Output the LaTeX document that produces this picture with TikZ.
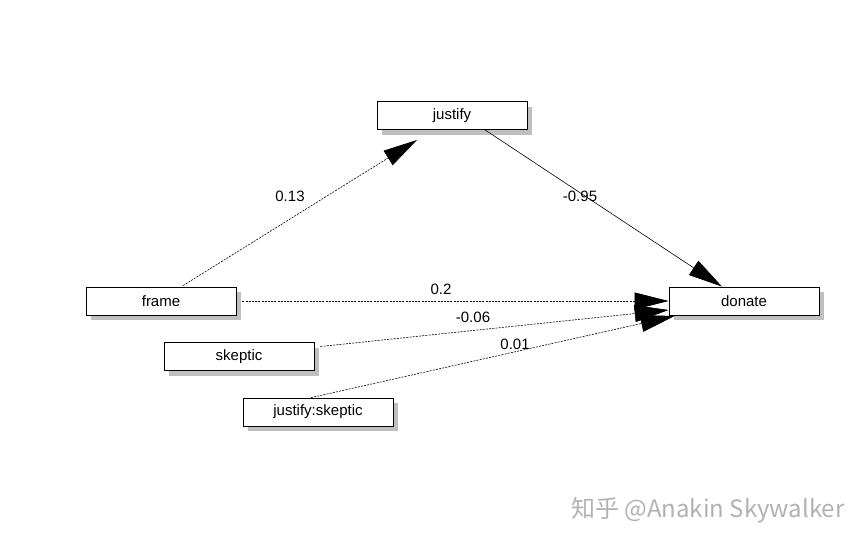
\documentclass[tikz,border=0pt]{standalone}
\usepackage{fontspec}
\setmainfont{Liberation Sans}
\newfontfamily\cjk{Noto Sans CJK SC}
\usetikzlibrary{arrows.meta}
\begin{document}
\begin{tikzpicture}[x=1pt,y=-1pt,
  box/.style={draw,fill=white,line width=0.8pt,minimum width=150pt,minimum height=28pt,inner sep=0pt,font=\fontsize{15}{18}\selectfont},
  shadow/.style={fill=black!25},
  lbl/.style={font=\fontsize{15}{18}\selectfont},
  arr/.style={-{Triangle[length=34pt,width=17pt]},line width=0.6pt},
  dsh/.style={dash pattern=on 2pt off 1.2pt}]
\useasboundingbox (0,0) rectangle (867,547);
\foreach \x/\y in {452/115.5,161/301,239/356.5,318/412,744/301}
  \fill[shadow] (\x-70,\y-9) rectangle (\x+80,\y+19);
\node[box] (justify) at (452,115.5) {justify};
\node[box] (frame) at (161,301) {frame};
\node[box] (skeptic) at (239,356.5) {skeptic};
\node[box] (js) at (318,412) {justify:skeptic};
\node[box] (donate) at (744,301) {donate};
\draw[arr,dsh] ([xshift=22pt,yshift=1pt]frame.north) -- (417,140) coordinate (j1);
\draw[arr] ([xshift=33pt]justify.south) -- ([xshift=-22pt]donate.north);
\draw[arr,dsh] ([xshift=6pt]frame.east) -- (donate.west);
\draw[arr,dsh] ([xshift=6pt,yshift=10pt]skeptic.east) -- ([yshift=-9pt]donate.west);
\draw[arr,dsh] ([xshift=-7pt]js.north) -- ([xshift=6pt,yshift=-15pt]donate.west);
\node[lbl] at (290,196) {0.13};
\node[lbl] at (580,196) {-0.95};
\node[lbl] at (441,289) {0.2};
\node[lbl] at (473,317) {-0.06};
\node[lbl] at (515,344) {0.01};
\node[font=\cjk\fontsize{24}{28}\selectfont,text=black!30,anchor=east] (wm) at (848,510) {知乎 @Anakin Skywalker};
\end{tikzpicture}
\end{document}
